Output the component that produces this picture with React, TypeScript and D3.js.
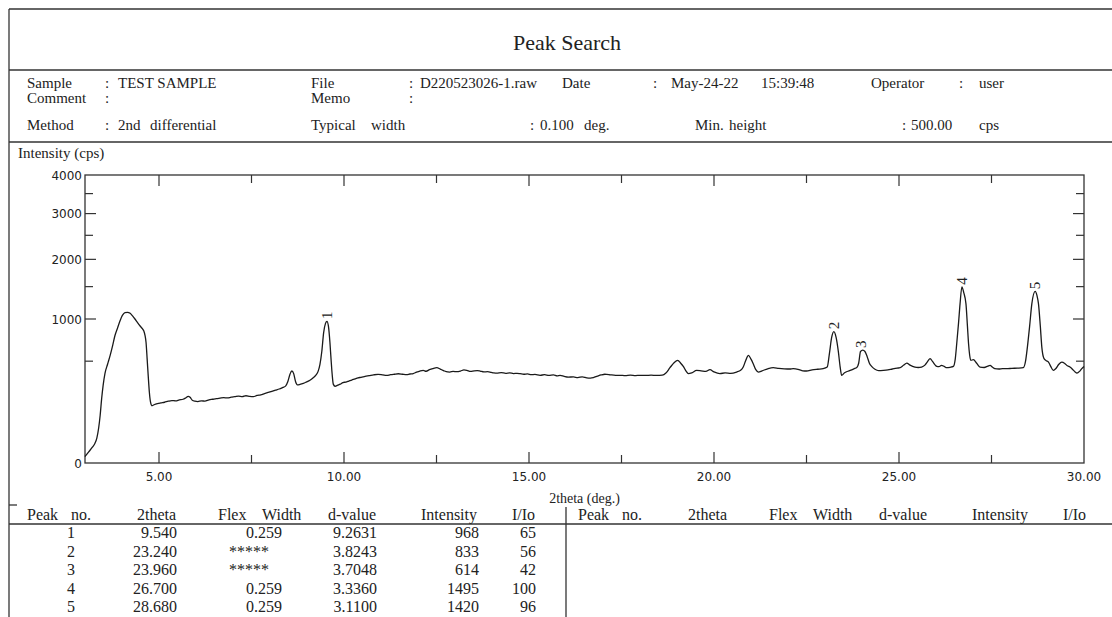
import React from "react";
import * as d3 from "d3";

// ---- Diffraction profile (2theta in deg, intensity in cps) ----
const profileTwoTheta = [
  3.0, 3.1, 3.2, 3.27, 3.32, 3.37, 3.41, 3.45, 3.49, 3.54, 3.61, 3.68, 3.75, 3.81, 3.88, 3.95, 4.01, 4.08, 4.15, 4.22,
  4.29, 4.35, 4.42, 4.49, 4.55, 4.59, 4.62, 4.65, 4.68, 4.71, 4.74, 4.77, 4.81, 4.88, 4.96, 5.05, 5.15, 5.25, 5.35, 5.45,
  5.55, 5.65, 5.72, 5.79, 5.84, 5.9, 5.97, 6.05, 6.15, 6.24, 6.35, 6.45, 6.55, 6.65, 6.75, 6.85, 6.95, 7.05, 7.15, 7.25,
  7.35, 7.45, 7.55, 7.65, 7.75, 7.85, 7.95, 8.05, 8.15, 8.25, 8.35, 8.42, 8.48, 8.54, 8.59, 8.64, 8.69, 8.74, 8.81, 8.9,
  8.98, 9.08, 9.16, 9.24, 9.3, 9.35, 9.4, 9.45, 9.5, 9.54, 9.58, 9.62, 9.65, 9.68, 9.71, 9.76, 9.83, 9.9, 9.97, 10.05,
  10.13, 10.21, 10.3, 10.38, 10.46, 10.57, 10.68, 10.8, 10.92, 11.05, 11.15, 11.26, 11.36, 11.47, 11.58, 11.69, 11.78, 11.87, 11.96, 12.05,
  12.14, 12.22, 12.31, 12.4, 12.51, 12.6, 12.7, 12.8, 12.86, 12.95, 13.05, 13.15, 13.24, 13.32, 13.42, 13.52, 13.6, 13.68, 13.78, 13.88,
  13.98, 14.05, 14.13, 14.25, 14.37, 14.48, 14.58, 14.68, 14.76, 14.86, 14.96, 15.06, 15.16, 15.3, 15.42, 15.54, 15.66, 15.76, 15.84, 15.95,
  16.06, 16.2, 16.32, 16.44, 16.56, 16.66, 16.74, 16.85, 16.95, 17.05, 17.1, 17.2, 17.34, 17.46, 17.6, 17.74, 17.88, 18.0, 18.15, 18.3,
  18.45, 18.6, 18.7, 18.81, 18.92, 19.02, 19.1, 19.17, 19.24, 19.31, 19.4, 19.53, 19.65, 19.78, 19.89, 20.0, 20.16, 20.3, 20.45, 20.61,
  20.72, 20.79, 20.86, 20.93, 21.0, 21.06, 21.13, 21.2, 21.3, 21.45, 21.6, 21.75, 21.9, 22.05, 22.14, 22.3, 22.4, 22.5, 22.65, 22.8,
  22.95, 23.06, 23.12, 23.18, 23.24, 23.3, 23.36, 23.41, 23.45, 23.52, 23.6, 23.68, 23.78, 23.86, 23.91, 23.96, 24.02, 24.08, 24.14, 24.2,
  24.26, 24.35, 24.45, 24.58, 24.7, 24.82, 24.95, 25.03, 25.12, 25.21, 25.3, 25.43, 25.52, 25.61, 25.7, 25.78, 25.84, 25.91, 25.98, 26.02,
  26.08, 26.15, 26.22, 26.29, 26.38, 26.47, 26.52, 26.56, 26.61, 26.65, 26.7, 26.75, 26.81, 26.85, 26.88, 26.91, 26.94, 27.01, 27.1, 27.19,
  27.3, 27.4, 27.46, 27.53, 27.59, 27.7, 27.8, 27.91, 28.05, 28.2, 28.36, 28.42, 28.47, 28.53, 28.59, 28.68, 28.73, 28.77, 28.82, 28.86,
  28.92, 28.98, 29.04, 29.1, 29.17, 29.24, 29.32, 29.4, 29.48, 29.55, 29.62, 29.7, 29.76, 29.81, 29.88, 29.94, 30.0,
];
const profileIntensity = [
  2, 6, 12, 19, 30, 60, 110, 200, 291, 388, 470, 558, 670, 784, 880, 979, 1050, 1092, 1095, 1080,
  1040, 1000, 950, 905, 870, 840, 790, 700, 520, 360, 240, 180, 158, 165, 170, 174, 178, 184, 188, 186,
  192, 196, 204, 214, 208, 190, 184, 182, 186, 185, 192, 196, 200, 203, 206, 204, 209, 212, 216, 212,
  218, 214, 212, 220, 224, 232, 240, 248, 256, 264, 276, 285, 318, 380, 408, 385, 320, 294, 298, 306,
  316, 330, 348, 372, 405, 470, 600, 820, 940, 968, 900, 700, 520, 380, 300, 284, 292, 300, 312, 316,
  324, 332, 342, 350, 354, 362, 368, 375, 379, 374, 370, 376, 380, 384, 380, 376, 382, 386, 398, 408,
  414, 406, 420, 430, 438, 425, 410, 400, 399, 405, 402, 408, 418, 414, 404, 410, 412, 408, 400, 402,
  396, 392, 390, 394, 388, 392, 386, 388, 385, 380, 383, 376, 378, 371, 376, 370, 374, 366, 371, 362,
  356, 357, 352, 358, 350, 348, 352, 364, 374, 380, 379, 375, 371, 371, 368, 372, 369, 371, 370, 372,
  370, 372, 390, 438, 485, 508, 480, 450, 410, 385, 392, 414, 410, 404, 420, 400, 385, 392, 388, 399,
  414, 444, 510, 558, 520, 476, 420, 399, 410, 428, 438, 432, 428, 426, 429, 420, 410, 408, 418, 424,
  429, 444, 580, 760, 833, 760, 600, 444, 371, 390, 404, 414, 428, 440, 480, 600, 614, 600, 545, 480,
  450, 424, 412, 414, 418, 426, 434, 438, 460, 482, 462, 444, 440, 444, 462, 500, 525, 495, 462, 450,
  448, 460, 450, 438, 442, 450, 520, 686, 950, 1221, 1495, 1400, 1221, 900, 686, 560, 508, 515, 480, 444,
  440, 452, 460, 442, 429, 426, 430, 429, 432, 434, 438, 500, 648, 900, 1221, 1420, 1350, 1221, 900, 648,
  525, 505, 491, 450, 414, 430, 470, 491, 478, 456, 444, 420, 400, 390, 405, 430, 450,
];

// ---- Peak table ----
const peakNo = [1, 2, 3, 4, 5];
const peakTwoTheta = ["9.540", "23.240", "23.960", "26.700", "28.680"];
const peakFlexWidth = ["0.259", "*****", "*****", "0.259", "0.259"];
const peakDValue = ["9.2631", "3.8243", "3.7048", "3.3360", "3.1100"];
const peakIntensity = [968, 833, 614, 1495, 1420];
const peakRelIntensity = [65, 56, 42, 100, 96];

// ---- Axes ----
const xMajorTicks = [5, 10, 15, 20, 25, 30];
const xMinorTicks = [7.5, 12.5, 17.5, 22.5, 27.5];
const yMajorTicks = [0, 1000, 2000, 3000, 4000];
const yMinorTicks = [500, 1500, 2500, 3500];

const SERIF = "'Liberation Serif', 'Times New Roman', serif";
const SANS = "'DejaVu Sans', Tahoma, sans-serif";
const INK = "#222";
const LINE = "#333";

export default function App() {
  const W = 1112;
  const H = 617;
  const x = d3.scaleLinear().domain([3, 30]).range([85, 1084]);
  const y = d3.scaleSqrt().domain([0, 4000]).range([463, 175]);
  const [x0, x1] = x.range();
  const [yb, yt] = y.range();

  const path = d3
    .line<number>()
    .x((_, i) => x(profileTwoTheta[i]))
    .y((d) => y(d))
    .curve(d3.curveMonotoneX)(profileIntensity) as string;

  const majorLen = 11;
  const minorLen = 8;

  const t = (props: any, s: string, size = 16) => (
    <text fontFamily={SERIF} fontSize={size} fill={INK} {...props}>
      {s}
    </text>
  );
  const h = (px: number, py: number, s: string) => t({ x: px, y: py }, s, 15);

  // table columns (left half), right half is offset
  const half = 551;
  const headerBase = 520;
  const rowBase = (i: number) => 538 + i * 18.5;

  const tableHalf = (dx: number, withRows: boolean) => (
    <g transform={`translate(${dx},0)`}>
      {t({ x: 27, y: headerBase }, "Peak")}
      {t({ x: 71, y: headerBase }, "no.")}
      {t({ x: 137, y: headerBase }, "2theta")}
      {t({ x: 218, y: headerBase }, "Flex")}
      {t({ x: 262, y: headerBase }, "Width")}
      {t({ x: 328, y: headerBase }, "d-value")}
      {t({ x: 421, y: headerBase }, "Intensity")}
      {t({ x: 512, y: headerBase }, "I/Io")}
      {withRows &&
        peakNo.map((n, i) => (
          <g key={n}>
            {t({ x: 71, y: rowBase(i), textAnchor: "middle" }, String(n))}
            {t({ x: 177, y: rowBase(i), textAnchor: "end" }, peakTwoTheta[i])}
            {peakFlexWidth[i].startsWith("*")
              ? t({ x: 229, y: rowBase(i) }, peakFlexWidth[i])
              : t({ x: 282, y: rowBase(i), textAnchor: "end" }, peakFlexWidth[i])}
            {t({ x: 377, y: rowBase(i), textAnchor: "end" }, peakDValue[i])}
            {t({ x: 479, y: rowBase(i), textAnchor: "end" }, String(peakIntensity[i]))}
            {t({ x: 536, y: rowBase(i), textAnchor: "end" }, String(peakRelIntensity[i]))}
          </g>
        ))}
    </g>
  );

  const r1 = 88;
  const r2 = 103;
  const r3 = 130;

  return (
    <div style={{ position: "absolute", left: 0, top: 0, width: W, height: H, background: "#fff" }}>
      <svg width={W} height={H} viewBox={`0 0 ${W} ${H}`}>
        <rect width={W} height={H} fill="#fff" />
        {/* outer frame */}
        <g stroke={LINE} strokeWidth={1.3} fill="none">
          <line x1={9} y1={9} x2={W} y2={9} />
          <line x1={9} y1={9} x2={9} y2={H} />
          <line x1={9} y1={70} x2={W} y2={70} />
          <line x1={9} y1={142} x2={W} y2={142} />
          <line x1={9} y1={505} x2={17} y2={505} />
          <line x1={9} y1={524} x2={W} y2={524} />
          <line x1={566} y1={507} x2={566} y2={H} />
        </g>

        {/* title */}
        <text x={567} y={50} textAnchor="middle" fontFamily={SERIF} fontSize={22} fill={INK}>
          Peak Search
        </text>

        {/* header info */}
        {h(27, r1, "Sample")}
        {h(105, r1, ":")}
        {h(118, r1, "TEST SAMPLE")}
        {h(311, r1, "File")}
        {h(409, r1, ":")}
        {h(420, r1, "D220523026-1.raw")}
        {h(562, r1, "Date")}
        {h(653, r1, ":")}
        {h(671, r1, "May-24-22")}
        {h(761, r1, "15:39:48")}
        {h(871, r1, "Operator")}
        {h(959, r1, ":")}
        {h(979, r1, "user")}

        {h(27, r2, "Comment")}
        {h(105, r2, ":")}
        {h(311, r2, "Memo")}
        {h(409, r2, ":")}

        {h(27, r3, "Method")}
        {h(105, r3, ":")}
        {h(118, r3, "2nd")}
        {h(150, r3, "differential")}
        {h(311, r3, "Typical")}
        {h(371, r3, "width")}
        {h(530, r3, ":")}
        {h(540, r3, "0.100")}
        {h(584, r3, "deg.")}
        {h(695, r3, "Min.")}
        {h(729, r3, "height")}
        {h(902, r3, ":")}
        {h(911, r3, "500.00")}
        {h(979, r3, "cps")}

        {/* y axis title */}
        {t({ x: 18, y: 158 }, "Intensity (cps)", 15)}

        {/* plot frame */}
        <rect x={x0} y={yt} width={x1 - x0} height={yb - yt} fill="none" stroke={LINE} strokeWidth={1.3} />

        {/* ticks (inward on all four sides) */}
        <g stroke={LINE} strokeWidth={1.2}>
          {xMajorTicks.filter((v) => v < 30).map((v) => (
            <g key={"xM" + v}>
              <line x1={x(v)} x2={x(v)} y1={yb} y2={yb - majorLen} />
              <line x1={x(v)} x2={x(v)} y1={yt} y2={yt + majorLen} />
            </g>
          ))}
          {xMinorTicks.map((v) => (
            <g key={"xm" + v}>
              <line x1={x(v)} x2={x(v)} y1={yb} y2={yb - minorLen} />
              <line x1={x(v)} x2={x(v)} y1={yt} y2={yt + minorLen} />
            </g>
          ))}
          {yMajorTicks.filter((v) => v > 0 && v < 4000).map((v) => (
            <g key={"yM" + v}>
              <line x1={x0} x2={x0 + majorLen} y1={y(v)} y2={y(v)} />
              <line x1={x1} x2={x1 - majorLen} y1={y(v)} y2={y(v)} />
            </g>
          ))}
          {yMinorTicks.map((v) => (
            <g key={"ym" + v}>
              <line x1={x0} x2={x0 + minorLen} y1={y(v)} y2={y(v)} />
              <line x1={x1} x2={x1 - minorLen} y1={y(v)} y2={y(v)} />
            </g>
          ))}
        </g>

        {/* tick labels */}
        {xMajorTicks.map((v) => (
          <text key={"xl" + v} x={x(v)} y={481} textAnchor="middle" fontFamily={SANS} fontSize={12} fill={INK}>
            {v.toFixed(2)}
          </text>
        ))}
        {yMajorTicks.map((v) => (
          <text key={"yl" + v} x={x0 - 3} y={y(v) + 4.5} textAnchor="end" fontFamily={SANS} fontSize={12} fill={INK}>
            {v}
          </text>
        ))}
        <text x={(x0 + x1) / 2} y={503} textAnchor="middle" fontFamily={SERIF} fontSize={14} fill={INK}>
          2theta (deg.)
        </text>

        {/* trace */}
        <path d={path} fill="none" stroke="#1a1a1a" strokeWidth={1.3} strokeLinejoin="round" />

        {/* peak markers */}
        {peakNo.map((n, i) => {
          const px = x(parseFloat(peakTwoTheta[i]));
          const py = y(peakIntensity[i]) - 6;
          return (
            <text
              key={"pk" + n}
              transform={`translate(${px},${py}) rotate(-90)`}
              textAnchor="middle"
              dominantBaseline="central"
              fontFamily={SERIF}
              fontSize={15}
              fill={INK}
            >
              {n}
            </text>
          );
        })}

        {/* peak table */}
        {tableHalf(0, true)}
        {tableHalf(half, false)}
      </svg>
    </div>
  );
}
